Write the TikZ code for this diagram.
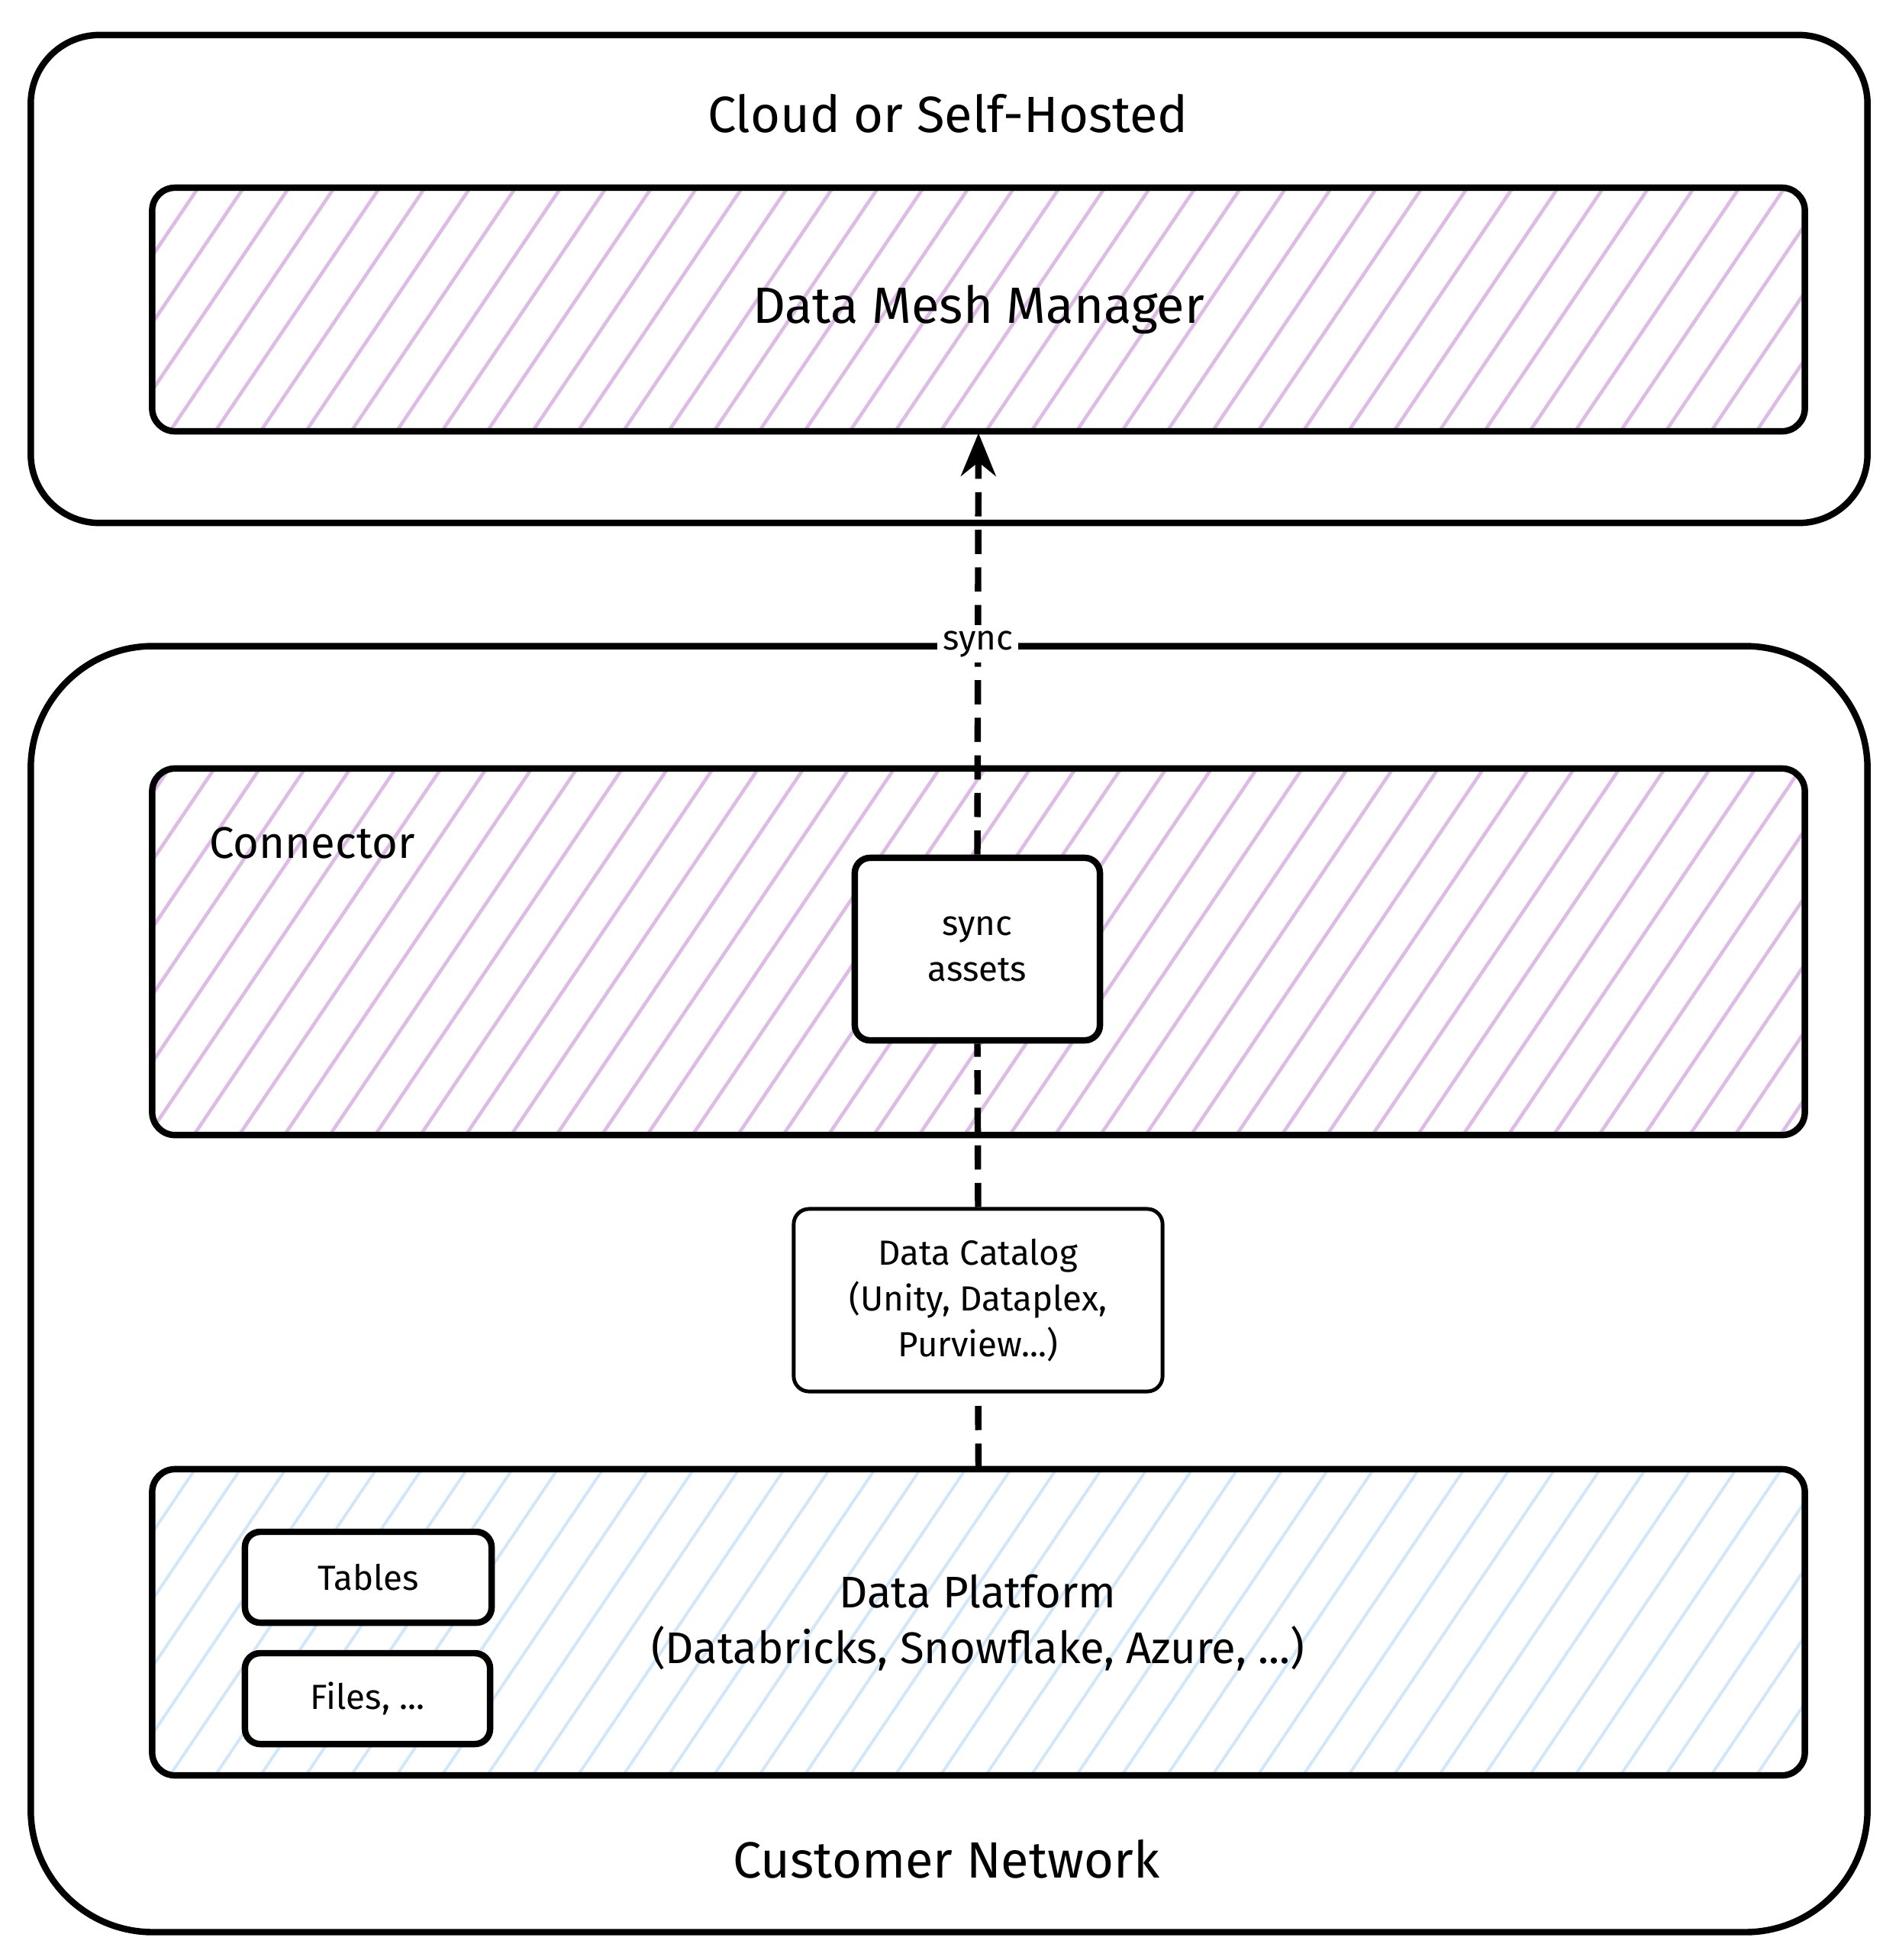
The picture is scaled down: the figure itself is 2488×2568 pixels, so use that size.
\documentclass[tikz,border=0pt]{standalone}
\usepackage{fontspec}
\setmainfont{Fira Sans}
\usetikzlibrary{arrows.meta,patterns.meta}

\definecolor{hatchpurple}{RGB}{222,186,230}
\definecolor{hatchblue}{RGB}{208,230,250}

\tikzset{
  zone/.style={draw=black,line width=2.4pt,rounded corners=0.9cm},
  block/.style={draw=black,line width=2.4pt,rounded corners=0.3cm},
  purplehatch/.style={pattern={Lines[angle=56,distance=14pt,line width=1.3pt]},pattern color=hatchpurple},
  bluehatch/.style={pattern={Lines[angle=56,distance=14pt,line width=1.1pt]},pattern color=hatchblue},
  smallbox/.style={draw=black,fill=white,line width=2.4pt,rounded corners=0.2cm,align=center,font=\fontsize{13}{17}\selectfont},
  bigtext/.style={font=\fontsize{19}{23}\selectfont},
  midtext/.style={font=\fontsize{16.5}{20.5}\selectfont,align=center},
  syncline/.style={line width=2.4pt,dash pattern=on 9pt off 5pt},
}

\begin{document}
\begin{tikzpicture}[x=0.01cm,y=-0.01cm]
  \useasboundingbox (0,0) rectangle (2488,2568);

  % cloud side
  \node[zone,minimum width=24.05cm,minimum height=6.39cm] (cloud) at (1243.5,365.5) {};
  \node[bigtext] (cloudlabel) at (1242,149) {Cloud or Self-Hosted};
  \node[block,purplehatch,bigtext,minimum width=21.64cm,minimum height=3.19cm] (dmm) at (1282,405.5) {Data Mesh Manager};

  % customer side
  \node[zone,rounded corners=1.6cm,minimum width=24.05cm,minimum height=16.84cm] (customer) at (1243.5,1689) {};
  \node[bigtext] (customerlabel) at (1240,2436) {Customer Network};

  \node[block,purplehatch,minimum width=21.64cm,minimum height=4.80cm] (connector) at (1282,1247) {};
  \node[midtext,anchor=west] (connectorlabel) at (262,1104) {Connector};
  \node[smallbox,minimum width=3.21cm,minimum height=2.39cm] (sync) at (1280.5,1243.5) {sync\\assets};

  \node[smallbox,line width=1.4pt,minimum width=4.83cm,minimum height=2.39cm] (catalog) at (1281.5,1703.5) {Data Catalog\\(Unity, Dataplex,\\Purview...)};

  \node[block,bluehatch,minimum width=21.64cm,minimum height=4.01cm] (platform) at (1282,2125.5) {};
  \node[midtext] (platformlabel) at (1281,2126) {Data Platform\\(Databricks, Snowflake, Azure, ...)};
  \node[smallbox,minimum width=3.23cm,minimum height=1.19cm] (tables) at (482.5,2066.5) {Tables};
  \node[smallbox,minimum width=3.21cm,minimum height=1.19cm] (files) at (481.5,2225.5) {Files, ...};

  % connectors
  \draw[syncline,-{Stealth[length=16pt,width=13pt]}] (sync.north) -- node[midway,fill=white,inner sep=2pt,font=\fontsize{13}{15}\selectfont] (synclabel) {sync} (dmm.south);
  \draw[syncline] (catalog.north) -- (sync.south);
  \draw[syncline] (platform.north) -- (catalog.south);
\end{tikzpicture}
\end{document}
